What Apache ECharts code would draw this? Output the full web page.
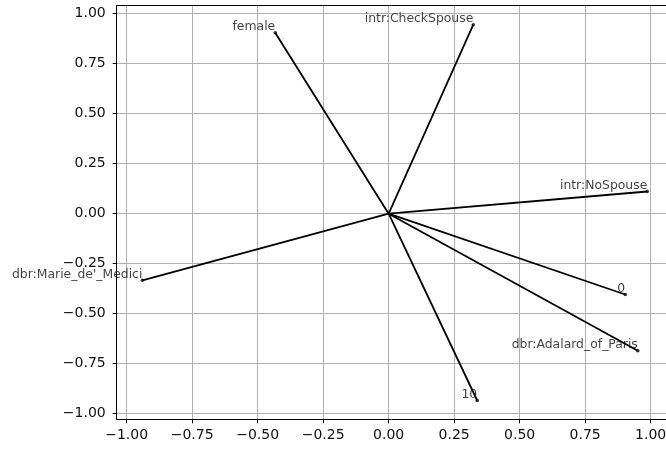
<!DOCTYPE html>
<html>
<head>
<meta charset="utf-8">
<script src="https://cdn.jsdelivr.net/npm/echarts@6/dist/echarts.min.js"></script>
<style>html,body{margin:0;padding:0;background:#fff;}#c{width:666px;height:449px;}</style>
</head>
<body>
<div id="c"></div>
<script>
var names = ['female', 'intr:CheckSpouse', 'intr:NoSpouse', "dbr:Marie_de'_Medici", '0', 'dbr:Adalard_of_Paris', '10'];
var xs = [-0.433, 0.323, 0.987, -0.940, 0.903, 0.951, 0.338];
var ys = [0.905, 0.945, 0.111, -0.333, -0.404, -0.685, -0.934];
var xTicks = [-1.0, -0.75, -0.5, -0.25, 0.0, 0.25, 0.5, 0.75, 1.0];
var yTicks = [-1.0, -0.75, -0.5, -0.25, 0.0, 0.25, 0.5, 0.75, 1.0];

function fmt(v) {
  return (v < 0 ? '\u2212' : '') + Math.abs(v).toFixed(2);
}

var series = [];
for (var i = 0; i < names.length; i++) {
  series.push({
    type: 'line',
    data: [[0, 0], [xs[i], ys[i]]],
    showSymbol: false,
    symbol: 'none',
    lineStyle: { color: '#000', width: 1.8 },
    silent: true,
    z: 3
  });
}
series.push({
  type: 'scatter',
  symbol: 'circle',
  symbolSize: 3.5,
  itemStyle: { color: '#000' },
  z: 4,
  data: names.map(function (n, i) {
    return { name: n, value: [xs[i], ys[i]] };
  }),
  label: {
    show: true,
    formatter: function (p) { return p.name; },
    position: [1.75, 2.8],
    align: 'right',
    verticalAlign: 'bottom',
    fontFamily: 'DejaVu Sans',
    fontSize: 12.4,
    lineHeight: 14,
    color: '#111'
  }
});

function makeAxis(min, max, ticks, margin) {
  return {
    type: 'value',
    min: min,
    max: max,
    axisLine: { show: true, onZero: false, lineStyle: { color: '#000', width: 1 } },
    axisTick: { show: true, inside: false, length: 4, customValues: ticks, lineStyle: { color: '#000', width: 1 } },
    splitLine: { show: true, lineStyle: { color: '#b0b0b0', width: 1 } },
    axisLabel: {
      fontFamily: 'DejaVu Sans',
      fontSize: 14,
      color: '#111',
      margin: margin,
      customValues: ticks,
      hideOverlap: false,
      formatter: fmt
    }
  };
}

var xMin = -1.038, xMax = 1.07;
var xMain = makeAxis(xMin, xMax, xTicks, 9);
xMain.position = 'bottom';
var xTop = {
  type: 'value',
  position: 'top',
  min: xMin,
  max: xMax,
  axisLine: { show: true, onZero: false, lineStyle: { color: '#000', width: 1 } },
  axisTick: { show: false },
  axisLabel: { show: false },
  splitLine: { show: false }
};

var chart = echarts.init(document.getElementById('c'), null, { renderer: 'canvas' });
chart.setOption({
  animation: false,
  backgroundColor: '#fff',
  grid: { left: 116.7, top: 5.3, width: 552.3, height: 414, show: false, containLabel: false, outerBoundsMode: 'none' },
  xAxis: [xMain, xTop],
  yAxis: makeAxis(-1.028, 1.042, yTicks, 11),
  series: series
});
</script>
</body>
</html>
